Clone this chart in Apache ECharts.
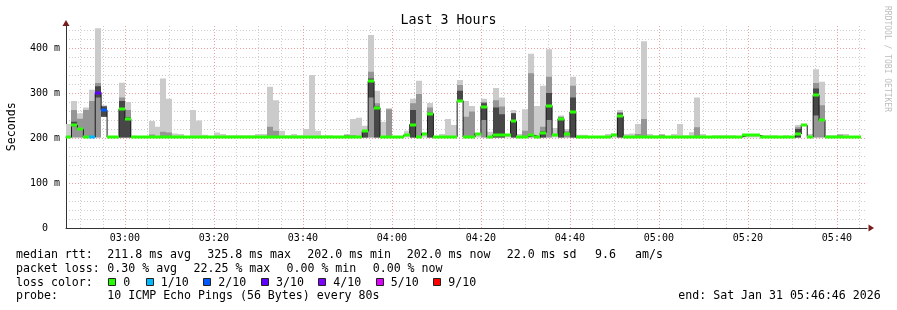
<!DOCTYPE html>
<html><head><meta charset="utf-8">
<script src="https://cdn.jsdelivr.net/npm/echarts@6/dist/echarts.min.js"></script>
<style>html,body{margin:0;padding:0;background:#fff}#c{width:897px;height:310px}</style>
</head><body><div id="c"></div>
<script>
// ---- time frame (seconds of the day) ----
const firstStep = 10000;      // 02:46:40, start of first 80 s step
const stepSeconds = 80;
const windowStart = 10006;    // 02:46:46
const windowEnd = 20806;      // 05:46:46

// ---- per-step values (ms) ----
const median = [
202,228,219,202,202,301,262,202,202,264,
243,203,202,202,202,202,202,202,202,202,
202,202,202,202,202,202,202,202,202,202,
202,202,202,202,202,202,202,202,202,202,
202,202,202,202,202,202,202,202,202,202,
215,326,267,202,202,202,202,207,230,202,
210,254,202,202,202,203,283,202,202,210,
270,202,207,207,206,237,202,203,206,202,
212,272,206,243,209,258,202,202,202,202,
202,202,207,248,202,202,202,202,202,202,
202,202,202,202,202,202,202,202,202,202,
202,202,202,202,206,206,206,202,202,202,
202,202,202,209,228,203,295,239,202,202,
202,202,202,202];
const smokeMax = [
231,282,255,268,307,444,273,204,204,323,
280,205,204,204,238,225,332,287,210,209,
204,262,239,207,203,212,209,206,206,206,
206,206,209,209,314,284,216,206,209,206,
220,340,216,206,206,205,205,206,242,245,
227,429,305,236,266,203,203,216,287,327,
212,278,203,209,242,229,329,282,271,211,
287,214,311,290,207,262,209,264,387,271,
316,397,222,250,220,336,207,207,203,203,
203,209,210,262,209,210,231,415,209,206,
208,203,209,231,206,213,290,209,203,206,
206,206,206,203,207,207,207,206,206,206,
203,206,204,229,231,209,353,325,206,206,
208,209,203,203];
const smokeMid = [
null,262,243,262,282,322,271,null,null,290,
262,null,null,null,208,null,214,212,null,null,
null,null,null,null,null,null,null,null,null,null,
null,null,null,null,225,216,null,null,null,null,
null,null,null,null,null,null,null,208,206,null,
218,347,277,null,264,null,null,null,277,298,
null,268,null,null,null,null,318,247,259,null,
280,null,284,270,null,255,null,216,344,null,
225,336,null,247,215,316,null,null,null,null,
null,null,null,258,null,null,209,242,null,null,
208,null,null,null,null,null,224,null,null,null,
null,null,null,null,null,null,null,null,null,null,
null,null,null,224,null,null,322,273,null,null,
208,null,null,null];
const smokeDark = [
null,236,null,null,null,315,270,null,null,282,
246,null,null,null,null,null,null,null,null,null,
null,null,null,null,null,null,null,null,null,null,
null,null,null,null,null,null,null,null,null,null,
null,null,null,null,null,null,null,null,null,null,
214,332,270,null,null,null,null,null,262,null,
null,256,null,null,null,null,305,null,null,null,
277,null,268,253,null,255,null,null,null,null,
215,300,null,245,null,290,null,null,null,null,
null,null,null,255,null,null,null,null,null,null,
null,null,null,null,null,null,null,null,null,null,
null,null,null,null,null,null,null,null,null,null,
null,null,null,220,null,null,310,null,null,null,
null,null,null,null];
const darkLow = [
null,226,null,null,null,290,247,null,null,null,
null,null,null,null,null,null,null,null,null,null,
null,null,null,null,null,null,null,null,null,null,
null,null,null,null,null,null,null,null,null,null,
null,null,null,null,null,null,null,null,null,null,
null,290,null,null,null,null,null,null,null,null,
null,null,null,null,null,null,283,null,null,null,
240,null,null,null,null,null,null,null,null,null,
null,240,null,null,null,null,null,null,null,null,
null,null,null,null,null,null,null,null,null,null,
null,null,null,null,null,null,null,null,null,null,
null,null,null,null,null,null,null,null,null,null,
null,null,null,null,null,null,250,null,null,null,
null,null,null,null];
const smokeMin = [
201,201,201,201,201,201,247,201,201,201,
201,201,201,201,201,201,201,201,201,201,
201,201,201,201,201,201,201,201,201,201,
201,201,201,201,201,201,201,201,201,201,
201,201,201,201,201,201,201,201,201,201,
201,201,201,201,201,201,201,201,201,201,
201,201,201,201,201,201,283,201,201,201,
201,201,201,201,201,201,201,201,201,201,
201,201,201,201,201,201,201,201,201,201,
201,201,201,201,201,201,201,201,201,201,
201,201,201,201,201,201,201,201,201,201,
201,201,201,201,201,201,201,201,201,201,
201,201,201,201,228,201,201,201,201,201,
201,201,201,201];
const lossTenths = [
0,0,0,0,1,3,2,0,0,0,
0,0,0,0,0,0,0,0,0,0,
0,0,0,0,0,0,0,0,0,0,
0,0,0,0,0,0,0,0,0,0,
0,0,0,0,0,0,0,0,0,0,
0,0,0,0,0,0,0,0,0,0,
0,0,0,0,0,0,0,0,0,0,
0,0,0,0,0,0,0,0,0,0,
0,0,0,0,0,0,0,0,0,0,
0,0,0,0,0,0,0,0,0,0,
0,0,0,0,0,0,0,0,0,0,
0,0,0,0,0,0,0,0,0,0,
0,0,0,0,0,0,0,0,0,0,
0,0,0,0];

// ---- legend / axis text ----
const lossLegendLabels = ['0','1/10','2/10','3/10','4/10','5/10','9/10'];
const lossLegendTenths = [0,1,2,3,4,5,9];
const lossLegendColors = ['#26ff00','#00b8ff','#0059ff','#5e00ff','#7e00ff','#dd00ff','#ff0000'];
const xTickLabels = ['03:00','03:20','03:40','04:00','04:20','04:40','05:00','05:20','05:40'];
const yTickValues = [0,100,200,300,400];
const yTickLabels = ['0  ','100 m','200 m','300 m','400 m'];
const statLines = [
  ['median rtt:', '211.8 ms avg', '325.8 ms max', '202.0 ms min', '202.0 ms now', '22.0 ms sd', '9.6', 'am/s'],
  ['packet loss:', '0.30 % avg', '22.25 % max', '0.00 % min', '0.00 % now'],
  ['probe:', '10 ICMP Echo Pings (56 Bytes) every 80s']
];
const endText = 'end: Sat Jan 31 05:46:46 2026';

// ---- styles ----
const MONO = 'DejaVu Sans Mono';
const LIGHT = '#cbcbcb', MID = '#959595', DARK = '#474747';
const GRID_MINOR = '#cdcdcd', GRID_MAJOR = '#eda0a0';

function toSec(s){ const p = s.split(':'); return (+p[0])*3600 + (+p[1])*60; }
function fmt(t){ const h = Math.floor(t/3600), m = Math.round((t%3600)/60); return String(h).padStart(2,'0')+':'+String(m).padStart(2,'0'); }
const labelTimes = xTickLabels.map(toSec);
const gridTimes = [];
for (let t = Math.ceil(windowStart/300)*300; t < windowEnd; t += 300) gridTimes.push(t);

function lossColor(l){ let c = lossLegendColors[0]; for (let i=0;i<lossLegendTenths.length;i++) if (l >= lossLegendTenths[i]) c = lossLegendColors[i]; return c; }

const stepData = median.map((m,k) => [firstStep + k*stepSeconds, m]);
const lineData = stepData.concat([[firstStep + median.length*stepSeconds, median[median.length-1]]]);

function renderVGrid(params, api){
  const t = gridTimes[params.dataIndex];
  const p0 = api.coord([t, 0]), p1 = api.coord([t, 450]);
  const x = Math.round(p0[0]) + 0.5;
  return {type:'line', shape:{x1:x, y1:p0[1], x2:x, y2:p1[1]},
    style:{stroke: (t % 1200 === 0) ? GRID_MAJOR : GRID_MINOR, lineWidth:1, lineDash:[1,2]}};
}
function renderSmoke(params, api){
  const k = params.dataIndex;
  const t0 = firstStep + k*stepSeconds, t1 = t0 + stepSeconds;
  const lo = smokeMin[k];
  const ch = [];
  function band(b, t, color){
    if (t == null || b == null || t <= b) return;
    const p0 = api.coord([t0, t]), p1 = api.coord([t1, b]);
    const x0 = Math.round(p0[0]), x1 = Math.round(p1[0]);
    ch.push({type:'rect', shape:{x:x0, y:p0[1], width:x1-x0, height:p1[1]-p0[1]}, style:{fill:color}});
  }
  band(lo, smokeMax[k], LIGHT);
  band(lo, smokeMid[k], MID);
  band(darkLow[k] != null ? darkLow[k] : lo, smokeDark[k], DARK);
  return {type:'group', children: ch};
}
function renderMedian(params, api){
  const k = params.dataIndex;
  const t0 = firstStep + k*stepSeconds, t1 = t0 + stepSeconds;
  const p0 = api.coord([t0, median[k]]), p1 = api.coord([t1, median[k]]);
  const x0 = Math.round(p0[0]), x1 = Math.round(p1[0]);
  return {type:'rect', shape:{x:x0, y:Math.round(p0[1])-1.5, width:x1-x0, height:3}, style:{fill: lossColor(lossTenths[k])}};
}

const chart = echarts.init(document.getElementById('c'), null, {renderer:'canvas'});

const graphics = [];
const lineY = [255, 268.5, 282.5, 296];
const line1X = [16, 107.3, 207.3, 307.3, 406.7, 506.7, 595, 635];
const line2X = [16, 107.3, 193.5, 286.5, 372.7];
const txt = (x, y, s, extra) => Object.assign({type:'text', x, y, silent:true,
  style:Object.assign({text:s, font:'11.6px "'+MONO+'"', fill:'#000', textAlign:'left', textVerticalAlign:'middle'}, extra||{})});
statLines[0].forEach((s,i) => graphics.push(txt(line1X[i], lineY[0], s)));
statLines[1].forEach((s,i) => graphics.push(txt(line2X[i], lineY[1], s)));
graphics.push(txt(16, lineY[2], 'loss color:'));
const sqX = [108.3, 145.7, 203.3, 261, 318.3, 375.7, 433.3];
lossLegendLabels.forEach((lab,i) => {
  graphics.push({type:'rect', silent:true, shape:{x:Math.round(sqX[i])+0.5, y:278.5, width:7, height:7}, style:{fill:lossLegendColors[i], stroke:'#222', lineWidth:1}});
  graphics.push(txt(sqX[i]+15, lineY[2], lab));
});
graphics.push(txt(16, lineY[3], statLines[2][0]));
graphics.push(txt(107.3, lineY[3], statLines[2][1]));
graphics.push(txt(678.3, lineY[3], endText));
graphics.push({type:'text', silent:true, x:887, y:59, rotation:-Math.PI/2,
  style:{text:'RRDTOOL / TOBI OETIKER', font:'8px "'+MONO+'"', fill:'#bdbdbd', textAlign:'center', textVerticalAlign:'middle'}});
// axis arrows
graphics.push({type:'polygon', silent:true, shape:{points:[[66,20],[62.5,26],[69.5,26]]}, style:{fill:'#7a1c1c'}});
graphics.push({type:'polygon', silent:true, shape:{points:[[874,228],[868.5,224.5],[868.5,231.5]]}, style:{fill:'#7a1c1c'}});

chart.setOption({
  animation:false,
  backgroundColor:'#fff',
  title:{text:'Last 3 Hours', left:'center', top:9, textStyle:{fontFamily:MONO, fontSize:13.3, fontWeight:'normal', color:'#000'}},
  grid:{left:66, right:30, top:25.5, bottom:82, containLabel:false, outerBoundsMode:'none'},
  xAxis:{type:'value', min:windowStart, max:windowEnd,
    axisLine:{show:true, onZero:false, lineStyle:{color:'#333', width:1}},
    axisTick:{show:false},
    axisLabel:{customValues:labelTimes, formatter:v => fmt(v), fontFamily:MONO, fontSize:10, color:'#000', margin:5},
    splitLine:{show:false}
  },
  yAxis:{type:'value', min:0, max:450, interval:20,
    name:'Seconds', nameLocation:'middle', nameGap:48, nameTextStyle:{fontFamily:MONO, fontSize:11.6, color:'#000'},
    axisLine:{show:true, lineStyle:{color:'#333', width:1}},
    axisTick:{show:false},
    axisLabel:{formatter:v => { const i = yTickValues.indexOf(v); return i >= 0 ? yTickLabels[i] : ''; }, fontFamily:MONO, fontSize:10, color:'#000', margin:6},
    splitLine:{show:true, showMaxLine:false, lineStyle:{color:[GRID_MAJOR,GRID_MINOR,GRID_MINOR,GRID_MINOR,GRID_MINOR], type:[1,2], width:1}}
  },
  series:[
    {type:'custom', name:'grid', clip:true, renderItem:renderVGrid, data:gridTimes.map(t => [t, 0]), z:1, silent:true},
    {type:'custom', name:'smoke', clip:true, renderItem:renderSmoke, data:stepData, z:2, silent:true},
    {type:'line', name:'median step', data:lineData, step:'end', showSymbol:false, symbol:'none', clip:true,
      lineStyle:{color:'#1a1a1a', width:1}, z:3, silent:true},
    {type:'custom', name:'median', clip:true, renderItem:renderMedian, data:stepData, z:4, silent:true}
  ],
  graphic:graphics
});
</script>
</body></html>
